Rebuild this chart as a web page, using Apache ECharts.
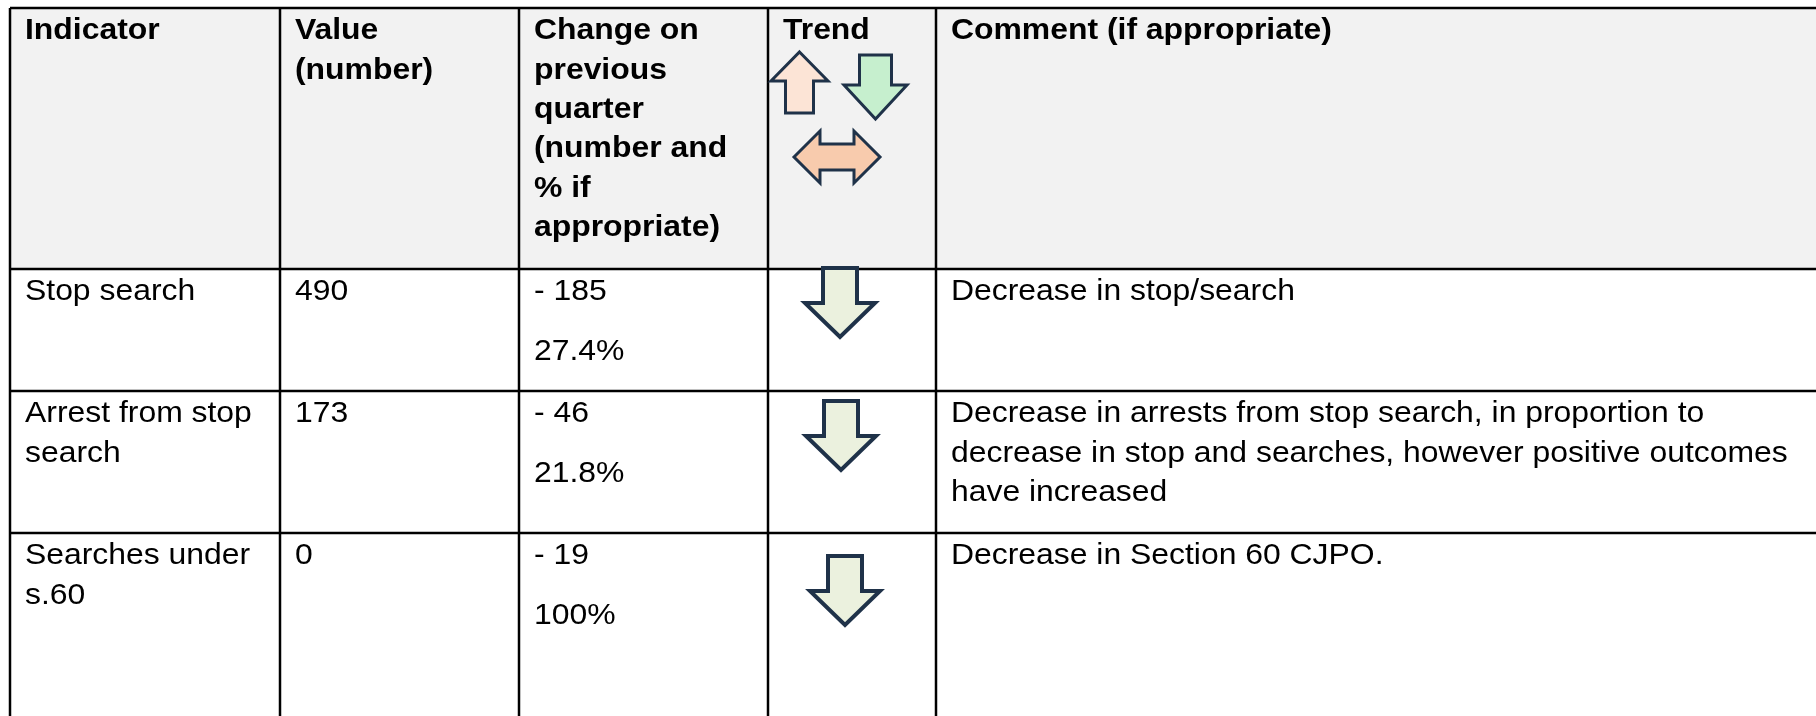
<!DOCTYPE html>
<html>
<head>
<meta charset="utf-8">
<script src="https://cdn.jsdelivr.net/npm/echarts@6/dist/echarts.min.js"></script>
<style>
  html, body { margin: 0; padding: 0; background: #fff; }
  #main { width: 1816px; height: 716px; }
</style>
</head>
<body>
<div id="main"></div>
<script>
  // table content
  const headers = ['Indicator', 'Value\n(number)', 'Change on\nprevious\nquarter\n(number and\n% if\nappropriate)', 'Trend', 'Comment (if appropriate)'];
  const indicators = ['Stop search', 'Arrest from stop\nsearch', 'Searches under\ns.60'];
  const values = [490, 173, 0];
  const changes = [-185, -46, -19];
  const changePct = ['27.4%', '21.8%', '100%'];
  const trends = ['down', 'down', 'down'];
  const comments = [
    'Decrease in stop/search',
    'Decrease in arrests from stop search, in proportion to\ndecrease in stop and searches, however positive outcomes\nhave increased',
    'Decrease in Section 60 CJPO.'
  ];
  const trendKey = ['up', 'down', 'both'];

  // layout (axis units = px)
  const colEdges = [10, 280, 519, 768, 936, 1830];
  const rowEdges = [8, 269, 391, 533, 730];
  const padX = 15;
  const firstLine = 23;
  const lineStep = 39.4;
  const paraStep = 60;
  const fontFamily = '"Liberation Sans", Arial, sans-serif';
  const fontSize = 30;
  const stretch = 1.063;

  const headerBg = '#f2f2f2';
  const gridColor = '#000';
  const arrowStroke = '#1f3249';
  const keyFill = { up: '#fce4d6', down: '#c6efce', both: '#f8cbad' };

  // arrow placement: body rows [cx, top], header key
  const bodyArrowPos = [[840, 268], [841, 401], [845, 556]];
  const bodyArrow = { w: 70, h: 69, shaft: 34, head: 34 };

  function downArrow(cx, top, a) {
    const y1 = top + a.h - a.head;
    return [
      [cx - a.shaft / 2, top], [cx + a.shaft / 2, top], [cx + a.shaft / 2, y1],
      [cx + a.w / 2, y1], [cx, top + a.h], [cx - a.w / 2, y1], [cx - a.shaft / 2, y1]
    ];
  }
  function upArrow(cx, top, a) {
    const y1 = top + a.head;
    return [
      [cx, top], [cx + a.w / 2, y1], [cx + a.shaft / 2, y1], [cx + a.shaft / 2, top + a.h],
      [cx - a.shaft / 2, top + a.h], [cx - a.shaft / 2, y1], [cx - a.w / 2, y1]
    ];
  }
  function bothArrow(x0, x1, cy, a) {
    return [
      [x0, cy], [x0 + a.head, cy - a.hh], [x0 + a.head, cy - a.sh], [x1 - a.head, cy - a.sh],
      [x1 - a.head, cy - a.hh], [x1, cy], [x1 - a.head, cy + a.hh], [x1 - a.head, cy + a.sh],
      [x0 + a.head, cy + a.sh], [x0 + a.head, cy + a.hh]
    ];
  }

  function textLines(api, str, x, y, bold) {
    return String(str).split('\n').map(function (line, i) {
      const p = api.coord([x, y + i * lineStep]);
      return {
        type: 'text', x: p[0], y: p[1], scaleX: stretch,
        style: {
          text: line, fill: '#000', fontFamily: fontFamily, fontSize: fontSize,
          fontWeight: bold ? 'bold' : 'normal', align: 'left', verticalAlign: 'middle'
        }
      };
    });
  }

  function renderRow(params, api) {
    const r = api.value(0);
    const top = rowEdges[r], bottom = rowEdges[r + 1];
    const a = api.coord([colEdges[0], top]);
    const b = api.coord([colEdges[colEdges.length - 1], bottom]);
    let children = [{
      type: 'rect',
      shape: { x: a[0], y: a[1], width: b[0] - a[0], height: b[1] - a[1] },
      style: { fill: r === 0 ? headerBg : '#fff' }
    }];
    const ty = top + firstLine;
    if (r === 0) {
      headers.forEach(function (h, c) {
        children = children.concat(textLines(api, h, colEdges[c] + padX, ty, true));
      });
    } else {
      const i = r - 1;
      children = children.concat(textLines(api, indicators[i], colEdges[0] + padX, ty));
      children = children.concat(textLines(api, values[i], colEdges[1] + padX, ty));
      children = children.concat(textLines(api, '- ' + Math.abs(changes[i]), colEdges[2] + padX, ty));
      children = children.concat(textLines(api, changePct[i], colEdges[2] + padX, ty + paraStep));
      children = children.concat(textLines(api, comments[i], colEdges[4] + padX, ty));
    }
    // grid lines
    children.push({
      type: 'line', shape: { x1: a[0], y1: a[1], x2: b[0], y2: a[1] },
      style: { stroke: gridColor, lineWidth: 2.5 }
    });
    colEdges.forEach(function (x) {
      const p = api.coord([x, top]), q = api.coord([x, bottom]);
      children.push({
        type: 'line', shape: { x1: p[0], y1: p[1], x2: q[0], y2: q[1] },
        style: { stroke: gridColor, lineWidth: 2.5 }
      });
    });
    return { type: 'group', children: children };
  }

  function toPx(api, pts) {
    return pts.map(function (p) { return api.coord(p); });
  }

  function renderTrend(params, api) {
    const i = params.dataIndex;
    const pos = bodyArrowPos[i];
    const pts = trends[i] === 'down' ? downArrow(pos[0], pos[1], bodyArrow) : upArrow(pos[0], pos[1], bodyArrow);
    return {
      type: 'polygon', shape: { points: toPx(api, pts) },
      style: { fill: '#ebf1de', stroke: arrowStroke, lineWidth: 4, lineJoin: 'miter' }
    };
  }

  function renderKey(params, api) {
    const k = trendKey[params.dataIndex];
    let pts;
    if (k === 'up') pts = upArrow(799.5, 52, { w: 57, h: 61, shaft: 28, head: 29 });
    else if (k === 'down') pts = downArrow(875.5, 55, { w: 63, h: 64, shaft: 32, head: 34 });
    else pts = bothArrow(794, 880, 157, { head: 26, hh: 26, sh: 13 });
    return {
      type: 'polygon', shape: { points: toPx(api, pts) },
      style: { fill: keyFill[k], stroke: arrowStroke, lineWidth: 3, lineJoin: 'miter' }
    };
  }

  const chart = echarts.init(document.getElementById('main'));
  chart.setOption({
    animation: false,
    grid: { left: 0, right: 0, top: 0, bottom: 0 },
    xAxis: { type: 'value', min: 0, max: 1816, show: false },
    yAxis: { type: 'value', min: 0, max: 716, inverse: true, show: false },
    series: [
      {
        type: 'custom', renderItem: renderRow, clip: false,
        data: [0, 1, 2, 3].map(function (r) { return [r]; }),
        encode: { x: -1, y: -1 }
      },
      {
        type: 'custom', renderItem: renderTrend, clip: false,
        data: trends.map(function (t, i) { return [i]; }),
        encode: { x: -1, y: -1 }, z: 3
      },
      {
        type: 'custom', renderItem: renderKey, clip: false,
        data: trendKey.map(function (t, i) { return [i]; }),
        encode: { x: -1, y: -1 }, z: 3
      }
    ]
  });
</script>
</body>
</html>
